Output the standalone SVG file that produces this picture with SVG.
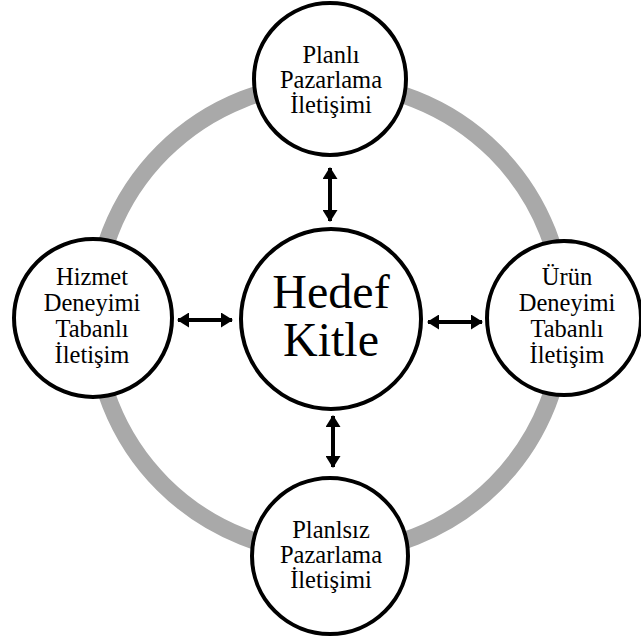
<svg xmlns="http://www.w3.org/2000/svg" width="641" height="641" viewBox="0 0 641 641">
  <style>
    .ring { fill: none; stroke: #a9a9a9; stroke-width: 17; }
    .node circle { fill: #ffffff; stroke: #000000; stroke-width: 4; }
    .node text { font-family: "Liberation Serif", "Times New Roman", serif; font-size: 24.5px; fill: #000000; text-anchor: middle; }
    .node.core text { font-size: 48px; }
    .link { stroke: #000000; stroke-width: 4; fill: none; marker-start: url(#head); marker-end: url(#head); }
  </style>
  <defs>
    <marker id="head" viewBox="0 0 12 15" refX="11" refY="7.5" markerWidth="12" markerHeight="15" markerUnits="userSpaceOnUse" orient="auto-start-reverse">
      <path d="M0,0 L12,7.5 L0,15 Z" fill="#000000"/>
    </marker>
  </defs>

  <rect width="641" height="641" fill="#ffffff"/>

  <!-- outer loop linking the four channels -->
  <circle class="ring" cx="329" cy="318" r="235"/>

  <!-- two-way links between the core and each channel -->
  <g id="connectors">
    <line class="link" x1="330" y1="168" x2="330" y2="221"/>
    <line class="link" x1="333" y1="416" x2="333" y2="467"/>
    <line class="link" x1="178" y1="320" x2="232" y2="320"/>
    <line class="link" x1="428" y1="322" x2="482" y2="322"/>
  </g>

  <g id="node-top" class="node">
    <circle cx="330" cy="79" r="76"/>
    <text x="331" y="63">Planlı</text>
    <text x="331" y="88">Pazarlama</text>
    <text x="331" y="113">İletişimi</text>
  </g>

  <g id="node-left" class="node">
    <circle cx="93" cy="318" r="79"/>
    <text x="92" y="285">Hizmet</text>
    <text x="92" y="311">Deneyimi</text>
    <text x="92" y="337">Tabanlı</text>
    <text x="92" y="363">İletişim</text>
  </g>

  <g id="node-right" class="node">
    <circle cx="564" cy="318" r="77"/>
    <text x="567" y="285">Ürün</text>
    <text x="567" y="311">Deneyimi</text>
    <text x="567" y="337">Tabanlı</text>
    <text x="567" y="363">İletişim</text>
  </g>

  <g id="node-bottom" class="node">
    <circle cx="330" cy="556" r="78"/>
    <text x="331" y="538">Planlsız</text>
    <text x="331" y="563">Pazarlama</text>
    <text x="331" y="588">İletişimi</text>
  </g>

  <g id="node-center" class="node core">
    <circle cx="331" cy="319" r="90"/>
    <text x="331" y="308">Hedef</text>
    <text x="331" y="356">Kitle</text>
  </g>
</svg>
